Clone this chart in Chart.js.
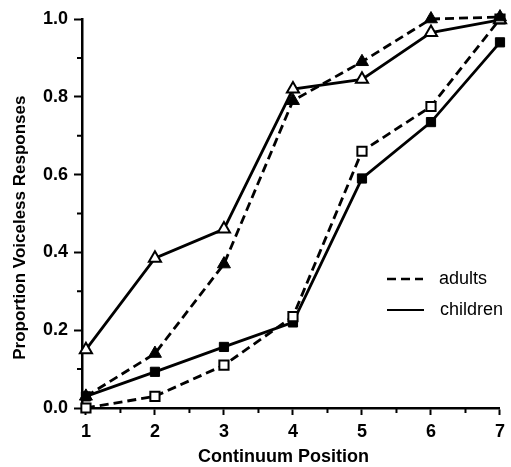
<!DOCTYPE html>
<html>
<head>
<meta charset="utf-8">
<script src="https://cdn.jsdelivr.net/npm/chart.js@4/dist/chart.umd.min.js"></script>
<style>
  body { margin: 0; background: #fff; }
  canvas { display: block; }
</style>
</head>
<body>
<canvas id="chart" width="511" height="467"></canvas>
<script>
// continuum positions (x) and proportions of voiceless responses
const positions = [1, 2, 3, 4, 5, 6, 7];
const adultsTri = [0.03, 0.14, 0.37, 0.79, 0.89, 1.0, 1.005];
const childrenTri = [0.15, 0.385, 0.46, 0.82, 0.845, 0.965, 0.998];
const adultsSq = [0.0, 0.03, 0.11, 0.235, 0.66, 0.775, 1.0];
const childrenSq = [0.03, 0.093, 0.157, 0.22, 0.59, 0.735, 0.94];

const yMinor = [0.1, 0.3, 0.5, 0.7, 0.9];
const xMinor = [1.5, 2.5, 3.5, 4.5, 5.5, 6.5];

const FONT = "'Liberation Sans', Arial, Helvetica, sans-serif";
const toPoints = values => positions.map((x, i) => ({ x, y: values[i] }));

const series = (values, dashed, pointStyle, filled, radius) => ({
  data: toPoints(values),
  borderColor: '#000',
  borderWidth: 2.8,
  borderDash: dashed ? [9, 5] : [],
  tension: 0,
  fill: false,
  pointStyle,
  pointRadius: radius,
  pointHoverRadius: radius,
  pointBackgroundColor: filled ? '#000' : '#fff',
  pointBorderColor: '#000',
  pointBorderWidth: filled ? 1 : 2,
  clip: false,
});

// short outward ticks between the labelled ones
const minorTicks = {
  id: 'minorTicks',
  afterDraw(chart) {
    const { ctx, scales: { x, y }, chartArea } = chart;
    ctx.save();
    ctx.strokeStyle = '#000';
    ctx.lineWidth = 2;
    ctx.beginPath();
    yMinor.forEach(v => {
      const py = y.getPixelForValue(v);
      ctx.moveTo(chartArea.left - 5, py);
      ctx.lineTo(chartArea.left, py);
    });
    xMinor.forEach(v => {
      const px = x.getPixelForValue(v);
      ctx.moveTo(px, chartArea.bottom);
      ctx.lineTo(px, chartArea.bottom + 5);
    });
    ctx.stroke();
    ctx.restore();
  },
};

// line-style key: adults dashed, children solid
const lineKey = {
  id: 'lineKey',
  afterDraw(chart) {
    const { ctx } = chart;
    ctx.save();
    ctx.strokeStyle = '#000';
    ctx.fillStyle = '#000';
    ctx.font = '18px ' + FONT;
    ctx.textBaseline = 'alphabetic';

    ctx.lineWidth = 2.5;
    ctx.setLineDash([9, 5]);
    ctx.beginPath();
    ctx.moveTo(387, 279);
    ctx.lineTo(423, 279);
    ctx.stroke();
    ctx.fillText('adults', 439, 284);

    ctx.lineWidth = 2.2;
    ctx.setLineDash([]);
    ctx.beginPath();
    ctx.moveTo(387, 310);
    ctx.lineTo(424, 310);
    ctx.stroke();
    ctx.fillText('children', 440, 315);
    ctx.restore();
  },
};

new Chart(document.getElementById('chart'), {
  type: 'line',
  data: {
    datasets: [
      series(adultsTri, true, 'triangle', true, 7.5),
      series(childrenTri, false, 'triangle', false, 7),
      series(adultsSq, true, 'rect', false, 6.5),
      series(childrenSq, false, 'rect', true, 6.5),
    ],
  },
  options: {
    responsive: false,
    animation: false,
    layout: { padding: { top: 19, right: 6, left: 0, bottom: 0 } },
    plugins: {
      legend: { display: false },
      tooltip: { enabled: false },
    },
    scales: {
      x: {
        type: 'linear',
        min: 0.943,
        max: 7,
        afterBuildTicks: scale => {
          scale.ticks = positions.map(value => ({ value }));
        },
        afterFit: scale => { scale.height = 59; },
        border: { color: '#000', width: 2.5 },
        grid: { drawOnChartArea: false, drawTicks: true, tickLength: 7, tickColor: '#000', tickWidth: 2 },
        ticks: {
          color: '#000',
          padding: 6,
          font: { family: FONT, size: 18, weight: 'bold' },
        },
        title: {
          display: true,
          // trailing spaces nudge the centred title a little left, as in the original
          text: 'Continuum Position   ',
          color: '#000',
          padding: { top: 0, bottom: 1 },
          font: { family: FONT, size: 18, weight: 'bold', lineHeight: 1 },
        },
      },
      y: {
        min: 0,
        max: 1,
        afterFit: scale => { scale.width = 82; },
        border: { color: '#000', width: 2.5 },
        grid: { drawOnChartArea: false, drawTicks: true, tickLength: 8, tickColor: '#000', tickWidth: 2 },
        ticks: {
          stepSize: 0.2,
          color: '#000',
          padding: 6,
          font: { family: FONT, size: 18, weight: 'bold' },
          callback: v => v.toFixed(1),
        },
        title: {
          display: true,
          // trailing spaces push the rotated title down toward the x axis
          text: 'Proportion Voiceless Responses      ',
          color: '#000',
          padding: { top: 12, bottom: 0 },
          font: { family: FONT, size: 17, weight: 'bold', lineHeight: 1 },
        },
      },
    },
  },
  plugins: [minorTicks, lineKey],
});
</script>
</body>
</html>
